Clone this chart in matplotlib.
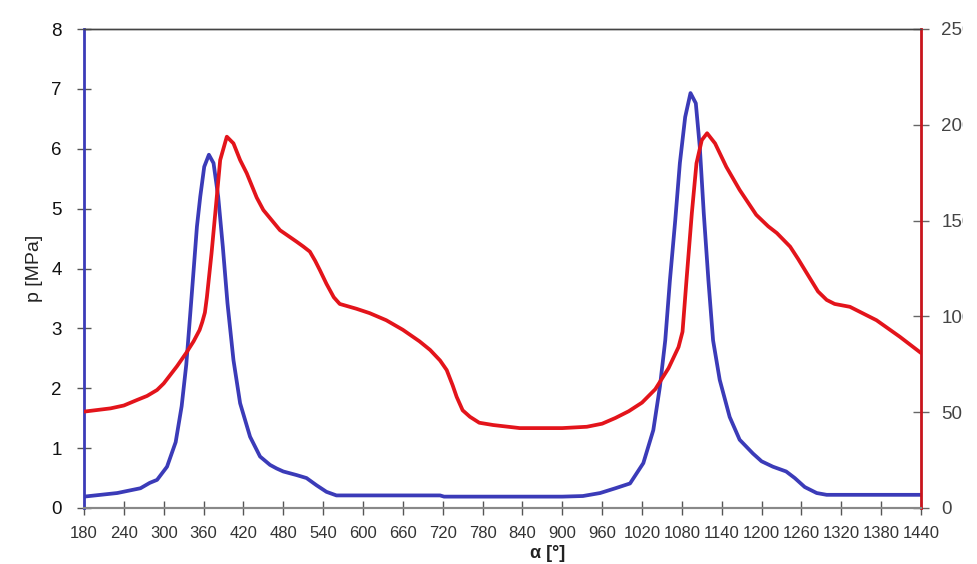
import matplotlib.pyplot as plt
from matplotlib.transforms import Bbox, TransformedBbox

# crank angle [deg] and cylinder pressure p [MPa] (left axis)
p_angle = [180, 230, 265, 279, 290, 305, 318, 327, 334, 340, 345, 350, 355, 361, 368, 375,
           382, 389, 396, 405, 415, 430, 445, 460, 470, 480, 500, 515, 530, 545, 560, 600,
           716, 722, 900, 931, 957, 980, 1002, 1022, 1037, 1047, 1055, 1062, 1070, 1077,
           1085, 1093, 1101, 1107, 1113, 1120, 1127, 1137, 1152, 1167, 1187, 1200, 1217,
           1237, 1250, 1265, 1283, 1298, 1440]
p_mpa = [0.19, 0.25, 0.33, 0.42, 0.47, 0.69, 1.1, 1.7, 2.4, 3.25, 3.97, 4.7, 5.2, 5.7, 5.9,
         5.76, 5.2, 4.36, 3.42, 2.47, 1.75, 1.19, 0.86, 0.72, 0.66, 0.61, 0.55, 0.5, 0.38,
         0.27, 0.21, 0.21, 0.21, 0.19, 0.19, 0.2, 0.25, 0.33, 0.41, 0.75, 1.3, 2.03, 2.8,
         3.8, 4.8, 5.76, 6.53, 6.93, 6.76, 6.03, 4.92, 3.8, 2.8, 2.14, 1.52, 1.14, 0.91,
         0.78, 0.69, 0.61, 0.5, 0.35, 0.25, 0.22, 0.22]

# second series (right axis)
t_angle = [180, 220, 240, 260, 275, 290, 300, 310, 320, 334, 345, 354, 358, 362, 365, 372,
           379, 385, 395, 405, 415, 425, 440, 450, 475, 500, 510, 520, 528, 535, 545, 556,
           565, 590, 610, 635, 660, 685, 701, 716, 726, 735, 741, 750, 761, 775, 796, 836,
           900, 937, 960, 980, 1000, 1020, 1040, 1060, 1075, 1081, 1087, 1095, 1102, 1110,
           1118, 1130, 1147, 1167, 1192, 1210, 1223, 1243, 1255, 1268, 1285, 1298, 1310,
           1333, 1373, 1408, 1440]
t_val = [50.3, 52, 53.5, 56.4, 58.5, 61.6, 65, 69.5, 74, 81, 87, 92.9, 97, 102, 110, 133,
         159, 181.6, 193.8, 190.3, 181.6, 174.7, 162, 155.5, 145, 139, 136.5, 133.8, 129,
         124.2, 117, 110, 106.5, 104, 101.7, 98, 93, 87, 82.5, 77, 72, 64, 58, 51, 47.6,
         44.5, 43.3, 41.7, 41.7, 42.4, 44, 47, 50.5, 55, 62, 73, 84, 92, 119, 153.8, 179.9,
         192, 195.6, 190.3, 178, 166, 153, 147, 143.5, 136.4, 130, 122.6, 113, 108.6, 106.5,
         105, 98, 89.4, 80.9]

x_ticks = list(range(180, 1441, 60))
p_ticks = list(range(0, 9))
t_ticks = list(range(0, 251, 50))
base_seg = [180, 300]

plt.rcParams['font.family'] = ['Liberation Sans', 'DejaVu Sans']

fig = plt.figure(figsize=(9.78, 5.64), dpi=100)
ax = fig.add_axes([84/978, 1-508/564, (921-84)/978, (508-29)/564])
ax2 = ax.twinx()

blue = '#3b3bb8'
red = '#e3141b'

ax.plot(p_angle, p_mpa, color=blue, lw=2.7, solid_joinstyle='round',
        solid_capstyle='round', zorder=3)
ax2.plot(t_angle, t_val, color=red, lw=2.7, solid_joinstyle='round',
         solid_capstyle='round', zorder=3)
ax.plot(base_seg, [0, 0], color='black', lw=1.2, zorder=2, clip_on=False)

ax.set_xlim(180, 1440)
ax.set_ylim(0, 8)
ax2.set_ylim(0, 250)

ax.set_xticks(x_ticks)
ax.set_xticklabels([str(v) for v in x_ticks], fontsize=12, color='#333333')
ax.set_yticks(p_ticks)
ax.set_yticklabels([str(v) for v in p_ticks], fontsize=13.5, color='#111111')
ax2.set_yticks(t_ticks)
ax2.set_yticklabels([str(v) for v in t_ticks], fontsize=13.5, color='#444444')

ax.tick_params(axis='x', direction='inout', length=9.5, width=1, color='#555555', pad=8)
ax.tick_params(axis='y', direction='inout', length=10, width=1, color='#555555', pad=11)
ax2.tick_params(axis='y', direction='inout', length=11, width=1, color='#666666', pad=9)

for a in (ax, ax2):
    a.spines['top'].set_color('#444444')
    a.spines['top'].set_linewidth(1)
    a.spines['bottom'].set_color('#888888')
    a.spines['bottom'].set_linewidth(1.5)
ax.spines['left'].set_color(blue)
ax.spines['left'].set_linewidth(2)
ax2.spines['left'].set_visible(False)
ax2.spines['right'].set_color('#c8141c')
ax2.spines['right'].set_linewidth(2)
ax.spines['right'].set_visible(False)

# the right-hand labels are cut off by the edge of the original chart area
clip = TransformedBbox(Bbox([[0, 0], [963/978, 1]]), fig.transFigure)
for lbl in ax2.get_yticklabels():
    lbl.set_clip_on(True)
    lbl.set_clip_box(clip)

ax.set_ylabel('p [MPa]', fontsize=14, color='#222222', labelpad=6)
fig.text(548/978, 1-545/564, 'α [°]', fontsize=13, fontweight='bold',
         color='#222222', ha='center', va='top')

fig.savefig('out.png', dpi=100)
